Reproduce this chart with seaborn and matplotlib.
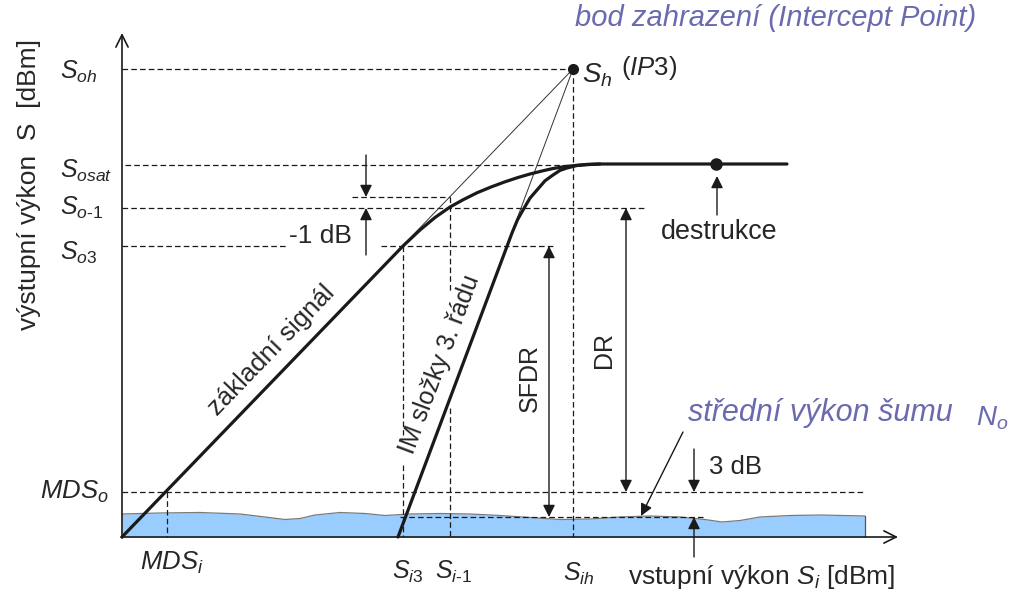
import numpy as np
import matplotlib
matplotlib.use("Agg")
import matplotlib.pyplot as plt
import seaborn as sns

# schematic units: input power (x) and output power (y), arbitrary dB steps
fund_x = [0, 28.1, 29.8, 31.3, 32.8, 34.1, 35.5, 36.9, 38.3, 39.6, 40.8, 42.0, 43.1, 44.2, 45.4, 46.6, 47.8, 66.5]
fund_y = [0, 29.1, 30.7, 31.95, 33.0, 33.72, 34.42, 35.0, 35.52, 35.95, 36.3, 36.6, 36.85, 37.03, 37.16, 37.24, 37.3, 37.3]

im3_x = [27.6, 39.0, 39.55, 40.1, 40.8, 41.5, 42.3, 43.1, 43.8, 44.5, 45.5, 46.5, 47.8]
im3_y = [0, 30.4, 31.72, 32.7, 33.89, 34.7, 35.62, 36.2, 36.66, 36.9, 37.15, 37.26, 37.3]

noise_x = [0, 3.8, 7.8, 11.8, 14.3, 16.3, 17.8, 19.3, 21.8, 24.3, 26.3, 28.8, 31.8, 34.8,
           37.8, 40.8, 43.8, 46.8, 49.8, 52.8, 55.8, 58.3, 60.0, 61.8, 63.8, 66.8, 69.8, 74.3]
noise_y = [2.3, 2.4, 2.45, 2.3, 2.0, 1.75, 1.85, 2.2, 2.45, 2.35, 2.15, 2.3, 2.35, 2.3,
           2.15, 1.95, 1.75, 1.8, 2.0, 2.1, 2.0, 1.75, 1.5, 1.65, 2.0, 2.15, 2.2, 2.1]

# output levels
s_oh = 46.8
s_osat = 37.2
s_o1_lin = 34.0
s_o1 = 32.9
s_o3 = 29.1
mds_o = 4.5
noise_mean = 2.0

# input levels
mds_i = 4.5
s_i3 = 28.1
s_i1 = 32.8
s_ih = 45.1
destr_x = 59.4
destr_y = 37.3
x_end = 77.6
y_end = 50.4

sns.set_theme(style="white")
plt.rcParams['font.family'] = ['Liberation Sans', 'DejaVu Sans']
plt.rcParams['mathtext.fontset'] = 'custom'
plt.rcParams['mathtext.rm'] = 'Liberation Sans'
plt.rcParams['mathtext.it'] = 'Liberation Sans:italic'
plt.rcParams['mathtext.bf'] = 'Liberation Sans:bold'

fig = plt.figure(figsize=(10.13, 5.94), dpi=100)
ax = fig.add_axes([0, 0, 1, 1])
ax.set_xlim(-12.2, 89.1)
ax.set_ylim(-5.7, 53.7)
ax.axis('off')

blue_txt = '#6A6AAE'
dash = dict(color='k', lw=0.9, ls=(0, (4.5, 2.5)))

# noise floor
ax.fill_between(noise_x, 0, noise_y, color='#99CCFF', lw=0, zorder=1)
sns.lineplot(x=noise_x, y=noise_y, ax=ax, color='#7A7A7A', lw=0.9, estimator=None, sort=False, zorder=2)
ax.plot([noise_x[-1], noise_x[-1]], [0, noise_y[-1]], color='#555555', lw=0.9)

# dashed guide lines
ax.plot([0, s_ih], [s_oh, s_oh], **dash)
ax.plot([s_ih, s_ih], [s_oh, 0], **dash)
ax.plot([0.3, 45.3], [s_osat, s_osat], **dash)
ax.plot([0, 52.5], [s_o1, s_o1], **dash)
ax.plot([23.0, s_i1], [s_o1_lin, s_o1_lin], **dash)
ax.plot([0, 16.6], [s_o3, s_o3], **dash)
ax.plot([25.9, 43.3], [s_o3, s_o3], **dash)
ax.plot([s_i3, s_i3], [s_o3, 10.2], **dash)
ax.plot([s_i3, s_i3], [7.2, 0], **dash)
ax.plot([s_i1, s_i1], [s_o1_lin, 24.4], **dash)
ax.plot([s_i1, s_i1], [12.9, 0], **dash)
ax.plot([0, 74.1], [mds_o, mds_o], **dash)
ax.plot([mds_i, mds_i], [mds_o, 0], **dash)
ax.plot([27.8, 58.1], [noise_mean, noise_mean], **dash)

# thin asymptotes to intercept point
ax.plot([0, s_ih], [0, s_oh], color='#333333', lw=0.7)
ax.plot([im3_x[0], s_ih], [0, s_oh], color='#333333', lw=0.7)

# main curves
sns.lineplot(x=fund_x, y=fund_y, ax=ax, color='k', lw=2.3, estimator=None, sort=False, zorder=5)
sns.lineplot(x=im3_x, y=im3_y, ax=ax, color='k', lw=2.3, estimator=None, sort=False, zorder=5)

ax.plot([s_ih], [s_oh], 'o', color='k', ms=7, zorder=6)
ax.plot([destr_x], [destr_y], 'o', color='k', ms=8, zorder=6)

# axes with arrows
ax.annotate('', xy=(x_end, 0), xytext=(-0.1, 0),
            arrowprops=dict(arrowstyle='->', lw=1.2, color='k', mutation_scale=22, shrinkA=0, shrinkB=0))
ax.annotate('', xy=(0, y_end), xytext=(0, -0.1),
            arrowprops=dict(arrowstyle='->', lw=1.2, color='k', mutation_scale=22, shrinkA=0, shrinkB=0))


def arrow(x0, y0, x1, y1, style='-|>'):
    ax.annotate('', xy=(x1, y1), xytext=(x0, y0),
                arrowprops=dict(arrowstyle=style, lw=1.0, color='k', mutation_scale=18,
                                shrinkA=0, shrinkB=0), zorder=7)


# -1 dB marker
arrow(24.4, 38.2, 24.4, s_o1_lin)
arrow(24.4, 28.2, 24.4, s_o1)
# SFDR, DR
arrow(42.7, s_o3, 42.7, noise_mean, style='<|-|>')
arrow(50.4, s_o1, 50.4, mds_o, style='<|-|>')
# 3 dB
arrow(57.2, 8.8, 57.2, mds_o)
arrow(57.2, -2.0, 57.2, noise_mean)
# destrukce, noise pointer
arrow(59.5, 32.2, 59.5, 36.1)
arrow(56.1, 10.5, 51.9, 2.1)

# labels on y axis
fs = 18
ax.text(-9.3, 35.3, 'výstupní výkon  S  [dBm]', rotation=90, ha='center', va='center', fontsize=19)
for lab, yy in [('$S_{oh}$', 46.5), ('$S_{osat}$', 36.6), ('$S_{o\\text{-}1}$', 32.9), ('$S_{o3}$', 28.4)]:
    ax.text(-6.2, yy, lab, ha='left', va='center', fontsize=fs)
ax.text(-8.2, 4.5, '$MDS_o$', ha='left', va='center', fontsize=18.5)

# labels on x axis
ax.text(1.8, -2.6, '$MDS_i$', ha='left', va='center', fontsize=18.5)
ax.text(27.0, -3.5, '$S_{i3}$', ha='left', va='center', fontsize=fs)
ax.text(31.3, -3.5, '$S_{i\\text{-}1}$', ha='left', va='center', fontsize=fs)
ax.text(44.1, -3.7, '$S_{ih}$', ha='left', va='center', fontsize=fs)
ax.text(50.6, -4.0, 'vstupní výkon $S_i$ [dBm]', ha='left', va='center', fontsize=19)

# annotations
ax.text(19.8, 30.1, '-1 dB', ha='center', va='center', fontsize=19)
ax.text(15.0, 18.7, 'základní signál', rotation=46, ha='center', va='center', fontsize=18.5)
ax.text(31.75, 17.3, 'IM složky 3. řádu', rotation=69.5, ha='center', va='center', fontsize=18)
ax.text(40.8, 15.9, 'SFDR', rotation=90, ha='center', va='center', fontsize=18)
ax.text(48.2, 18.7, 'DR', rotation=90, ha='center', va='center', fontsize=18)
ax.text(59.7, 30.5, 'destrukce', ha='center', va='center', fontsize=19.4)
ax.text(58.7, 7.0, '3 dB', ha='left', va='center', fontsize=18.5)
ax.text(46.0, 46.2, '$S_h$', ha='left', va='center', fontsize=20)
ax.text(49.9, 46.9, '($\\mathit{IP}$3)', ha='left', va='center', fontsize=18.5)

ax.text(45.3, 51.9, 'bod zahrazení (Intercept Point)', style='italic', color=blue_txt,
        ha='left', va='center', fontsize=21)
ax.text(56.6, 12.4, 'střední výkon šumu', style='italic', color=blue_txt,
        ha='left', va='center', fontsize=22)
ax.text(85.4, 11.9, '$N_o$', color=blue_txt, ha='left', va='center', fontsize=20)

fig.savefig('out.png', dpi=100)
